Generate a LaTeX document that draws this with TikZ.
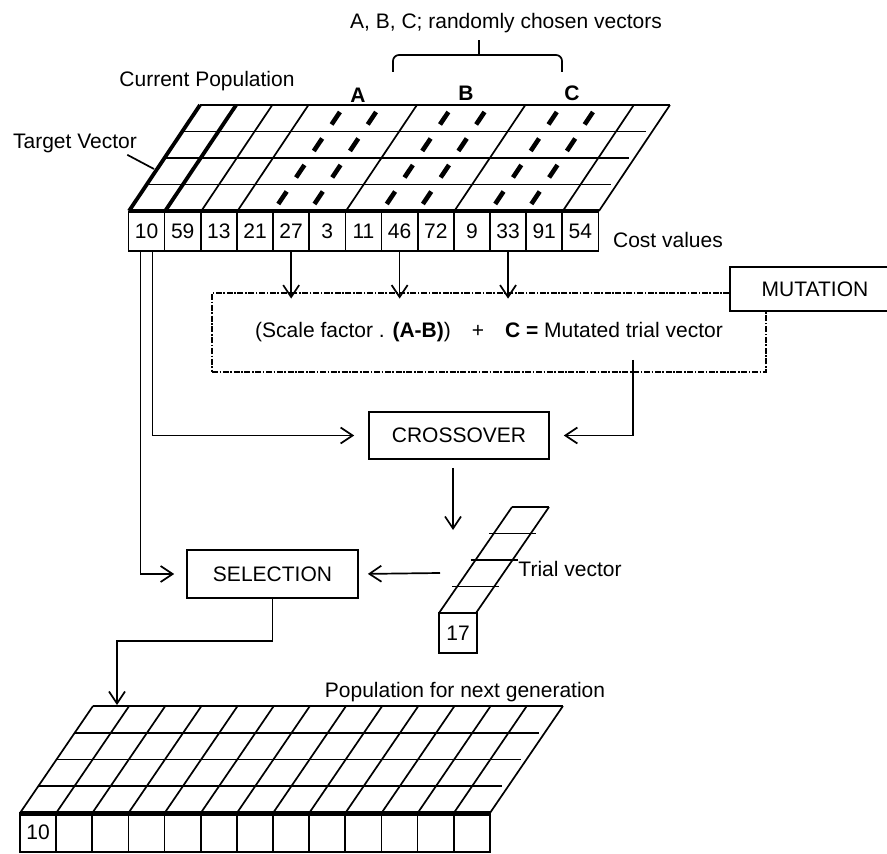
\documentclass[tikz,border=0pt]{standalone}
\usepackage{fontspec}
\setmainfont{Liberation Sans}
\usetikzlibrary{arrows.meta, positioning, calc}

\begin{document}
\begin{tikzpicture}[
            x=0.5pt, y=-0.5pt,
            every node/.style={font=\fontsize{10.5}{12.6}\selectfont},
            box/.style={rectangle, draw, line width=0.85pt, fill=white},
            cell/.style={rectangle, draw, line width=0.85pt, minimum width=18.08pt, minimum height=19.5pt, inner sep=0pt},
            mutbox/.style={rectangle, draw, line width=1.4pt, dash pattern=on 3pt off 0.8pt on 0.8pt off 0.8pt, minimum width=277pt, minimum height=39.5pt},
            label/.style={inner sep=1pt},
            line/.style={draw, line width=0.85pt, -{Straight Barb[length=6pt,width=8pt]}},
            thinline/.style={draw, line width=0.85pt},
            thickline/.style={draw, line width=1.9pt},
            dashline/.style={draw, line width=2.3pt, dash pattern=on 7.5pt off 8.45pt, dash phase=11.725pt},
        ]
            \useasboundingbox (0,0) rectangle (887,854);

            % Current population
            \foreach \i in {2,3,6,9,12,13} \draw[thinline] ({129+36.15*\i},211) -- +(71,-106);
            \foreach \i in {0,1} \draw[thickline] ({129+36.15*\i},211) -- +(71,-106);
            \foreach \i in {4,5,7,8,10,11} \draw[dashline] ({129+36.15*\i},211) -- +(71,-106);
            \foreach \r in {1,2,3} \draw[thinline] ({129+71*\r/4},{211-106*\r/4}) -- +(464,0);
            \draw[thinline] (200,105) -- (670,105);
            \draw[line width=2pt] (129,211) -- (599,211);
            \foreach \v [count=\i] in {10,59,13,21,27,3,11,46,72,9,33,91,54}
                \node[cell] (c\i) at ({110.4+36.15*\i},231.5) {\v};

            % Textos
            \node[label] (title) at (506,23) {A, B, C; randomly chosen vectors};
            \node[label] (curpop) at (207,81) {Current Population};
            \node[label] (tv) at (75,143) {Target Vector};
            \node[label] (lA) at (358,95) {\textbf{A}};
            \node[label] (lB) at (466,93) {\textbf{B}};
            \node[label] (lC) at (572,93) {\textbf{C}};
            \node[label] (cost) at (668,240) {Cost values};
            \draw[thinline, rounded corners=3pt] (393,72) -- (393,55) -- (562,55) -- (562,72);
            \draw[thinline] (479,55) -- (479,40);
            \coordinate (tvtip) at (154,169);
            \draw[thinline] ([xshift=-6pt]tv.south east) -- (tvtip);

            % Operadores
            \node[mutbox] (mutated) at (489,332.5) {(Scale factor . \textbf{(A-B)})\quad+\quad\textbf{C =} Mutated trial vector};
            \node[box, minimum width=85pt, minimum height=22pt] (mutation) at (815,289) {MUTATION};
            \node[box, minimum width=90pt, minimum height=23.5pt] (crossover) at (459,435.5) {CROSSOVER};
            \node[box, minimum width=85.5pt, minimum height=24pt] (selection) at (272.5,574) {SELECTION};

            % Trial vector
            \draw[thinline] (439,613) -- +(73,-106);
            \draw[thinline] (476,613) -- +(73,-106);
            \draw[thinline] (512,507) -- (549,507);
            \foreach \r in {1,2,3} \draw[thinline] ({439+73*\r/4-5},{613-106*\r/4}) -- +(47,0);
            \node[cell, minimum width=19pt, minimum height=20pt] (t17) at (458,633) {17};
            \node[label] (trial) at (570,569) {Trial vector};

            % Population for next generation
            \foreach \i in {0,...,13} \draw[thinline] ({20+36.15*\i},813) -- +(73,-107);
            \foreach \r in {1,2,3} \draw[thinline] ({20+73*\r/4},{813-107*\r/4}) -- +(464,0);
            \draw[thinline] (93,706) -- (563,706);
            \draw[line width=2.5pt] (20,813) -- (490,813);
            \foreach \v [count=\i] in {10,{},{},{},{},{},{},{},{},{},{},{},{}}
                \node[cell] (n\i) at ({1.9+36.15*\i},832.5) {\v};
            \node[label] (nextpop) at (465,692) {Population for next generation};

            % Conexiones
            \coordinate (mout) at (633,360);
            \coordinate (tvin) at (453,530);
            \coordinate (tvout) at (440,573);
            \coordinate (ngtop) at (117,705);
            \draw[line, shorten >=-3.5pt] (c5.south) -- (c5.south |- mutated.north);
            \draw[line, shorten >=-3.5pt] (c8.south) -- (c8.south |- mutated.north);
            \draw[line, shorten >=-3.5pt] (c11.south) -- (c11.south |- mutated.north);
            \draw[line, shorten >=7pt] ([xshift=3pt]c1.south) |- (crossover.west);
            \draw[line, shorten >=6pt] ([xshift=-3pt]c1.south) |- (selection.west);
            \draw[line, shorten >=7pt] (mout) |- (crossover.east);
            \draw[line, shorten <=4pt] (crossover.south -| tvin) -- (tvin);
            \draw[line, shorten >=4.5pt] (tvout) -- (selection.east);
            \draw[line] (selection.south) -- ++(0,42) -| (ngtop);
        \end{tikzpicture}
\end{document}
